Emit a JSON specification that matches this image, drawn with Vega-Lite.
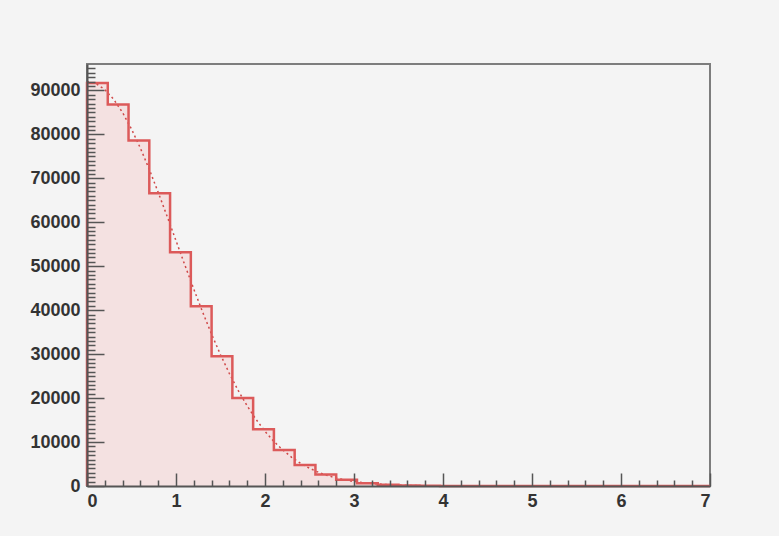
{
  "$schema": "https://vega.github.io/schema/vega-lite/v6.json",
  "width": 623,
  "height": 422,
  "autosize": {"type": "none"},
  "padding": {"left": 87, "top": 64, "right": 69, "bottom": 50},
  "background": "#f4f4f4",
  "config": {
    "view": {"stroke": "#7d7d7d", "strokeWidth": 2, "fill": "#f4f4f4"},
    "axis": {
      "labelFont": "Liberation Sans",
      "labelFontWeight": "bold",
      "labelFontSize": 18,
      "labelColor": "#333333",
      "domainColor": "#555555",
      "domainWidth": 2,
      "tickColor": "#555555",
      "tickWidth": 1.5,
      "grid": false,
      "title": null
    }
  },
  "datasets": {
    "hist": [
      {"x": 0, "count": 0},
      {"x": 0, "count": 91700},
      {"x": 0.2333, "count": 86800},
      {"x": 0.4667, "count": 78600},
      {"x": 0.7, "count": 66600},
      {"x": 0.9333, "count": 53200},
      {"x": 1.1667, "count": 40900},
      {"x": 1.4, "count": 29500},
      {"x": 1.6333, "count": 20000},
      {"x": 1.8667, "count": 12900},
      {"x": 2.1, "count": 8200},
      {"x": 2.3333, "count": 4800},
      {"x": 2.5667, "count": 2600},
      {"x": 2.8, "count": 1400},
      {"x": 3.0333, "count": 650},
      {"x": 3.2667, "count": 300},
      {"x": 3.5, "count": 130},
      {"x": 3.7333, "count": 60},
      {"x": 3.9667, "count": 25},
      {"x": 4.2, "count": 10},
      {"x": 4.4333, "count": 4},
      {"x": 4.6667, "count": 0},
      {"x": 7, "count": 0}
    ],
    "fit": [
      {"x": 0, "f": 92000},
      {"x": 0.1, "f": 91540},
      {"x": 0.2, "f": 90180},
      {"x": 0.3, "f": 87950},
      {"x": 0.4, "f": 84930},
      {"x": 0.5, "f": 81190},
      {"x": 0.6, "f": 76850},
      {"x": 0.7, "f": 72010},
      {"x": 0.8, "f": 66800},
      {"x": 0.9, "f": 61360},
      {"x": 1.0, "f": 55800},
      {"x": 1.1, "f": 50240},
      {"x": 1.2, "f": 44780},
      {"x": 1.3, "f": 39520},
      {"x": 1.4, "f": 34530},
      {"x": 1.5, "f": 29870},
      {"x": 1.6, "f": 25580},
      {"x": 1.7, "f": 21680},
      {"x": 1.8, "f": 18210},
      {"x": 1.9, "f": 15130},
      {"x": 2.0, "f": 12450},
      {"x": 2.1, "f": 10150},
      {"x": 2.2, "f": 8180},
      {"x": 2.3, "f": 6530},
      {"x": 2.4, "f": 5160},
      {"x": 2.5, "f": 4040},
      {"x": 2.6, "f": 3130},
      {"x": 2.7, "f": 2400},
      {"x": 2.8, "f": 1820},
      {"x": 2.9, "f": 1370},
      {"x": 3.0, "f": 1020},
      {"x": 3.2, "f": 550},
      {"x": 3.4, "f": 280},
      {"x": 3.6, "f": 140},
      {"x": 3.8, "f": 67},
      {"x": 4.0, "f": 31},
      {"x": 4.5, "f": 4},
      {"x": 5.0, "f": 0}
    ]
  },
  "layer": [
    {
      "data": {"name": "hist"},
      "mark": {"type": "area", "interpolate": "step-after", "fill": "#f4e1e1"},
      "encoding": {
        "x": {
          "field": "x", "type": "quantitative",
          "scale": {"domain": [0, 7], "nice": false, "zero": false},
          "axis": {"orient": "bottom", "zindex": 2, "values": [0, 1, 2, 3, 4, 5, 6, 7], "format": "d", "tickSize": -13, "labelPadding": 19}
        },
        "y": {
          "field": "count", "type": "quantitative",
          "scale": {"domain": [0, 96000], "nice": false},
          "axis": {"orient": "left", "zindex": 2, "values": [0, 10000, 20000, 30000, 40000, 50000, 60000, 70000, 80000, 90000], "format": "d", "tickSize": -17, "labelPadding": 24}
        }
      }
    },
    {
      "data": {"name": "fit"},
      "mark": {"type": "line", "color": "#d04848", "strokeWidth": 1.5, "strokeDash": [2, 3]},
      "encoding": {
        "x": {"field": "x", "type": "quantitative", "axis": null},
        "y": {"field": "f", "type": "quantitative", "axis": null}
      }
    },
    {
      "data": {"name": "hist"},
      "mark": {"type": "line", "interpolate": "step-after", "color": "#dc5a5a", "strokeWidth": 2.5},
      "encoding": {
        "x": {
          "field": "x", "type": "quantitative",
          "axis": {"orient": "bottom", "zindex": 2, "labels": false, "domain": false, "tickSize": -6,
            "values": [0.2, 0.4, 0.6, 0.8, 1.2, 1.4, 1.6, 1.8, 2.2, 2.4, 2.6, 2.8, 3.2, 3.4, 3.6, 3.8, 4.2, 4.4, 4.6, 4.8, 5.2, 5.4, 5.6, 5.8, 6.2, 6.4, 6.6, 6.8]}
        },
        "y": {
          "field": "count", "type": "quantitative",
          "axis": {"orient": "left", "zindex": 2, "labels": false, "domain": false, "tickSize": -8,
            "values": [1000, 2000, 3000, 4000, 5000, 6000, 7000, 8000, 9000, 11000, 12000, 13000, 14000, 15000, 16000, 17000, 18000, 19000, 21000, 22000, 23000, 24000, 25000, 26000, 27000, 28000, 29000, 31000, 32000, 33000, 34000, 35000, 36000, 37000, 38000, 39000, 41000, 42000, 43000, 44000, 45000, 46000, 47000, 48000, 49000, 51000, 52000, 53000, 54000, 55000, 56000, 57000, 58000, 59000, 61000, 62000, 63000, 64000, 65000, 66000, 67000, 68000, 69000, 71000, 72000, 73000, 74000, 75000, 76000, 77000, 78000, 79000, 81000, 82000, 83000, 84000, 85000, 86000, 87000, 88000, 89000, 91000, 92000, 93000, 94000, 95000]}
        }
      }
    }
  ],
  "resolve": {"axis": {"x": "independent", "y": "independent"}}
}
